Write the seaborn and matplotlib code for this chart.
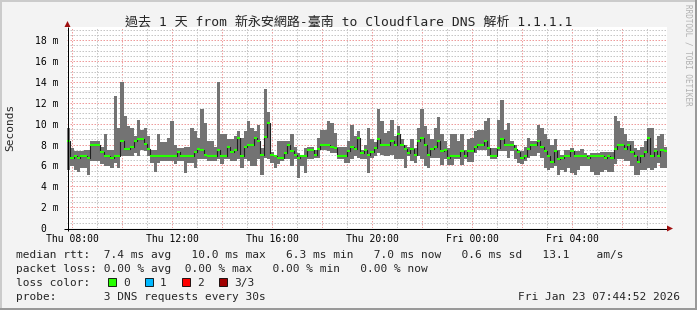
import numpy as np
import pandas as pd
import matplotlib
matplotlib.use("Agg")
import matplotlib.pyplot as plt
import seaborn as sns
from matplotlib.lines import Line2D
from matplotlib.patches import Polygon, Rectangle

# ---------------- data ----------------
start_hour = 7.8            # Thu 07:48 (hours since Thu 00:00)
step_minutes = 8

median_ms = [
    8.3, 6.7, 6.9, 6.7, 6.9, 6.9, 6.7, 8.0, 8.0, 8.0,
    7.3, 6.9, 6.9, 6.7, 6.9, 6.9, 8.3, 7.6, 7.6, 7.8,
    8.3, 8.5, 8.5, 8.1, 7.6, 6.9, 6.9, 6.9, 6.9, 6.9,
    6.9, 6.9, 6.9, 7.3, 6.9, 6.9, 6.9, 6.9, 7.3, 7.6,
    7.5, 7.0, 6.9, 6.9, 6.9, 7.5, 6.9, 6.9, 7.8, 7.3,
    7.5, 8.6, 6.9, 7.8, 8.0, 8.0, 8.6, 8.3, 7.0, 8.7,
    10.1, 7.0, 6.9, 6.7, 6.7, 7.2, 8.0, 7.4, 7.0, 6.7,
    6.9, 6.9, 7.5, 7.5, 7.0, 7.6, 8.0, 8.0, 8.0, 7.8,
    7.7, 6.9, 6.9, 6.9, 7.4, 7.8, 7.6, 8.6, 7.2, 7.5,
    7.0, 7.3, 7.7, 8.5, 8.0, 8.0, 8.0, 8.3, 8.0, 9.0,
    8.0, 7.6, 7.2, 7.6, 7.0, 8.3, 8.6, 8.0, 7.0, 7.6,
    7.8, 8.3, 7.4, 7.5, 6.7, 6.9, 6.9, 6.9, 7.4, 6.9,
    7.4, 7.4, 7.8, 8.0, 8.0, 8.3, 7.7, 6.9, 6.9, 7.7,
    8.5, 8.0, 8.0, 8.0, 7.6, 7.3, 6.7, 6.9, 7.6, 8.0,
    8.0, 8.3, 7.8, 7.4, 6.9, 6.3, 7.4, 6.6, 6.7, 6.9,
    6.9, 7.4, 6.9, 6.9, 6.9, 6.9, 6.7, 6.9, 6.9, 6.9,
    6.9, 6.7, 6.9, 6.7, 7.6, 8.0, 8.0, 7.6, 8.0, 7.3,
    6.9, 6.3, 6.9, 7.3, 8.6, 6.9, 7.4, 6.9, 7.5, 7.4,
]
max_ms = [
    9.6, 7.7, 7.4, 7.4, 7.4, 7.5, 7.5, 8.3, 8.3, 8.3,
    7.8, 9.0, 7.5, 7.5, 12.7, 9.6, 14.0, 10.7, 9.8, 9.6,
    8.8, 10.4, 9.4, 9.6, 8.8, 7.5, 7.5, 9.0, 8.2, 8.2,
    8.6, 10.3, 8.0, 7.7, 7.7, 7.8, 7.8, 9.6, 9.3, 8.6,
    11.4, 10.1, 8.3, 8.3, 7.8, 14.0, 9.0, 9.0, 8.5, 8.5,
    8.8, 9.3, 8.6, 9.3, 10.3, 9.6, 9.3, 9.9, 7.7, 13.3,
    11.1, 7.3, 7.0, 8.3, 8.3, 8.3, 8.3, 9.0, 7.8, 7.2,
    7.0, 7.7, 7.8, 7.8, 7.5, 8.6, 9.4, 9.4, 10.3, 10.1,
    9.1, 7.8, 7.8, 7.8, 8.3, 9.9, 8.8, 9.3, 7.5, 8.0,
    9.6, 8.5, 8.2, 11.4, 10.3, 9.1, 9.3, 10.4, 8.8, 9.8,
    8.5, 8.0, 7.8, 8.5, 7.7, 9.6, 11.4, 9.8, 9.0, 8.5,
    9.6, 10.6, 9.0, 8.3, 7.7, 9.0, 9.0, 8.3, 9.0, 7.5,
    8.5, 8.6, 9.3, 9.4, 9.4, 10.3, 10.5, 7.7, 7.7, 10.4,
    12.3, 9.4, 10.1, 8.3, 8.0, 7.5, 7.4, 7.8, 8.6, 8.3,
    8.3, 9.9, 9.6, 9.0, 8.5, 8.0, 8.5, 7.5, 7.0, 7.5,
    7.5, 7.7, 7.4, 7.4, 7.6, 7.2, 7.0, 7.2, 7.2, 7.2,
    7.3, 7.3, 7.3, 7.3, 10.7, 10.3, 9.6, 9.0, 8.3, 8.3,
    7.7, 7.5, 7.8, 8.3, 9.6, 9.6, 7.7, 8.8, 9.0, 7.8,
]
min_ms = [
    5.6, 5.9, 5.6, 5.4, 5.8, 5.8, 5.1, 6.4, 6.4, 6.4,
    6.1, 5.9, 5.9, 5.8, 6.2, 5.8, 6.9, 6.9, 6.9, 6.9,
    7.2, 6.9, 7.5, 7.4, 6.9, 6.2, 5.4, 6.2, 6.4, 6.4,
    6.4, 6.4, 6.1, 6.4, 6.4, 5.3, 6.2, 6.2, 5.8, 6.6,
    6.6, 6.6, 6.4, 6.4, 6.4, 6.6, 6.1, 6.6, 6.6, 6.4,
    6.4, 6.6, 5.8, 6.6, 6.4, 5.9, 5.9, 6.6, 5.1, 6.7,
    6.6, 6.2, 5.8, 6.1, 6.4, 6.6, 6.6, 5.9, 6.6, 4.8,
    5.9, 5.3, 6.6, 6.6, 6.7, 6.7, 7.5, 7.5, 7.4, 7.2,
    7.2, 6.6, 6.6, 6.2, 6.2, 6.6, 6.9, 6.7, 6.6, 6.6,
    5.3, 6.7, 6.9, 7.2, 7.0, 6.9, 6.9, 7.0, 6.6, 6.6,
    6.6, 5.8, 6.9, 6.4, 6.2, 6.9, 6.6, 5.9, 5.8, 6.7,
    6.7, 6.7, 6.0, 6.6, 6.0, 6.0, 6.6, 6.6, 6.0, 6.6,
    6.3, 6.3, 7.2, 7.5, 7.5, 7.5, 6.9, 6.6, 6.6, 7.4,
    7.4, 7.4, 6.7, 7.4, 6.6, 6.2, 6.1, 6.4, 6.7, 6.9,
    6.9, 7.2, 6.7, 5.8, 5.6, 5.8, 5.9, 5.1, 5.6, 5.4,
    5.8, 5.3, 5.1, 5.6, 5.9, 5.9, 5.9, 5.4, 5.1, 5.1,
    5.4, 5.6, 5.4, 5.4, 6.1, 6.6, 6.6, 6.4, 6.4, 5.9,
    5.1, 5.1, 5.6, 5.6, 5.8, 5.6, 5.8, 6.2, 5.8, 5.8,
]

x_tick_hours = [8, 12, 16, 20, 24, 28]
x_tick_labels = ["Thu 08:00", "Thu 12:00", "Thu 16:00", "Thu 20:00", "Fri 00:00", "Fri 04:00"]
y_tick_values = [0, 2, 4, 6, 8, 10, 12, 14, 16, 18]
y_tick_labels = ["0  ", "2 m", "4 m", "6 m", "8 m", "10 m", "12 m", "14 m", "16 m", "18 m"]

title = "過去 1 天 from 新永安網路-臺南 to Cloudflare DNS 解析 1.1.1.1"
y_label = "Seconds"
legend_rows = [
    "median rtt:  7.4 ms avg   10.0 ms max   6.3 ms min   7.0 ms now   0.6 ms sd   13.1    am/s",
    "packet loss: 0.00 % avg  0.00 % max   0.00 % min   0.00 % now",
    "loss color:",
    "probe:       3 DNS requests every 30s",
]
loss_labels = ["0", "1", "2", "3/3"]
loss_colors = ["#26ff00", "#00b8ff", "#ff0000", "#a10000"]
timestamp = "Fri Jan 23 07:44:52 2026"
watermark = "RRDTOOL / TOBI OETIKER"

# ---------------- style ----------------
sns.set_theme(style="white")
MONO = ["DejaVu Sans Mono", "Noto Sans CJK TC"]
plt.rcParams["font.family"] = MONO
plt.rcParams["lines.scale_dashes"] = False

W, H = 697, 310
BG = "#f3f3f3"
MGRID = "#ee9c9c"
GRID = "#c6c6c6"
SMOKE = "#737373"
ARROW = "#a01010"
PX = 0.72  # one pixel in points at 100 dpi

fig = plt.figure(figsize=(W / 100, H / 100), dpi=100, facecolor=BG)


def fx(px):
    return px / W


def fy(py):
    return 1 - py / H


# plot area in pixels
L, R, T, B = 67, 667, 27, 228
px_per_ms = 10.43
ax = fig.add_axes([fx(L), fy(B), (R - L) / W, (B - T) / H])
ax.set_facecolor("white")

n = len(median_ms)
step_h = step_minutes / 60.0
edges = start_hour + step_h * np.arange(n + 1)
df = pd.DataFrame({
    "t": edges,
    "median": median_ms + [median_ms[-1]],
    "lo": min_ms + [min_ms[-1]],
    "hi": max_ms + [max_ms[-1]],
})

# smoke
ax.fill_between(df["t"], df["lo"], df["hi"], step="post", color=SMOKE, lw=0, zorder=2)
# median step line
sns.lineplot(data=df, x="t", y="median", drawstyle="steps-post", estimator=None,
             color="#202020", lw=0.8, ax=ax, zorder=3)
# green median markers (0 loss)
ax.hlines(median_ms, edges[:-1], edges[1:], colors=loss_colors[0], lw=1.5,
          zorder=4, capstyle="butt")

ax.set_xlim(start_hour, start_hour + 24)
ax.set_ylim(0, (B - T) / px_per_ms)

# grid / ticks
major_x = np.arange(8, 32, 2)
ax.set_xticks(major_x)
ax.set_xticks(np.arange(8, 32, 1), minor=True)
lab_map = dict(zip(x_tick_hours, x_tick_labels))
ax.set_xticklabels([lab_map.get(int(h), "") for h in major_x])
ax.set_yticks(y_tick_values)
ax.set_yticklabels(y_tick_labels)
ax.set_yticks(np.arange(0, 19.5, 0.5), minor=True)
ax.set_axisbelow(True)
dots = (0, (1.5 * PX, 1.5 * PX))
ax.grid(which="minor", color=GRID, lw=PX, ls=dots)
ax.grid(which="major", color=MGRID, lw=PX, ls=dots)
ax.tick_params(which="major", length=2, width=0.72, color=MGRID, labelsize=7,
               labelcolor="black")
ax.tick_params(axis="y", which="major", pad=4.2)
ax.tick_params(axis="x", which="major", pad=2.0)
ax.tick_params(which="minor", length=0)
for lab in ax.get_xticklabels() + ax.get_yticklabels():
    lab.set_family(MONO)
for s in ax.spines.values():
    s.set_visible(False)
ax.set_xlabel("")
ax.set_ylabel("")


def fline(x0, y0, x1, y1, color, lw=PX):
    fig.add_artist(Line2D([fx(x0), fx(x1)], [fy(y0), fy(y1)], transform=fig.transFigure,
                          color=color, lw=lw, solid_capstyle="butt", zorder=10))


# axes with arrows
fline(64, B + 0.5, 668, B + 0.5, "black")
fline(L + 0.5, B + 3, L + 0.5, 27, "black")
fig.add_artist(Polygon([(fx(64.5), fy(27)), (fx(70.5), fy(27)), (fx(67.5), fy(21))],
                       closed=True, transform=fig.transFigure, color=ARROW, lw=0, zorder=11))
fig.add_artist(Polygon([(fx(667), fy(225.5)), (fx(667), fy(231.5)), (fx(673), fy(228.5))],
                       closed=True, transform=fig.transFigure, color=ARROW, lw=0, zorder=11))

# frame shading
fline(0, 0.5, W, 0.5, "#cbcbcb", lw=1.44)
fline(0.5, 0, 0.5, H, "#cbcbcb", lw=1.44)
fline(0, H - 1, W, H - 1, "#999999", lw=1.44)
fline(W - 1, 0, W - 1, H, "#999999", lw=1.44)

# texts
fig.text(fx(348.5), fy(22), title, ha="center", va="center", fontsize=9.4, family=MONO)
fig.text(fx(10.5), fy(127.5), y_label, rotation=90, ha="center", va="center",
         fontsize=8, family=MONO)
fig.text(fx(688), fy(4), watermark, rotation=270, ha="center", va="top",
         fontsize=5.5, color="#b0b0b0", family=MONO)

row_base = [258, 272, 286, 300]
for txt, yb in zip(legend_rows, row_base):
    fig.text(fx(15.5), fy(yb), txt, ha="left", va="baseline", fontsize=8, family=MONO)
fig.text(fx(680.5), fy(row_base[3]), timestamp, ha="right", va="baseline", fontsize=8,
         family=MONO)

box_x = [108, 145, 182, 219]
text_x = [123.5, 160, 197, 234]
for bx, tx, lab, col in zip(box_x, text_x, loss_labels, loss_colors):
    fig.add_artist(Rectangle((fx(bx), fy(286)), 8 / W, 8 / H, transform=fig.transFigure,
                             facecolor=col, edgecolor="black", lw=0.6, zorder=10))
    fig.text(fx(tx), fy(row_base[2]), lab, ha="left", va="baseline", fontsize=8, family=MONO)

fig.savefig("out.png", dpi=100, facecolor=BG)
